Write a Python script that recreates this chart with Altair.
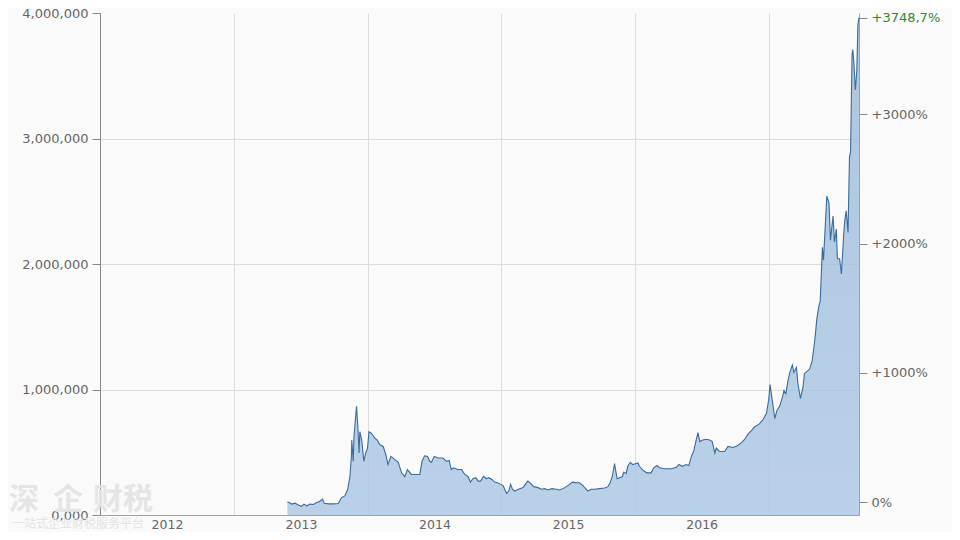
import altair as alt
import pandas as pd

# ---- data (values in thousands) ----
dates_2013 = ["2013-05-27", "2013-06-01", "2013-06-08", "2013-06-17", "2013-06-26", "2013-07-05", "2013-07-11",
              "2013-07-19", "2013-07-28", "2013-08-06", "2013-08-15", "2013-08-24", "2013-08-31", "2013-09-05",
              "2013-09-16", "2013-09-29", "2013-10-13", "2013-10-22", "2013-10-31", "2013-11-08", "2013-11-14",
              "2013-11-18", "2013-11-19", "2013-11-23", "2013-11-25", "2013-11-28", "2013-12-02", "2013-12-06",
              "2013-12-09", "2013-12-11", "2013-12-16", "2013-12-22", "2013-12-27"]
values_2013 = [103, 100, 87, 94, 79, 69, 87, 73, 87, 84, 100, 110, 126, 94, 89, 89, 92, 139, 152, 205, 309,
               467, 598, 428, 624, 730, 866, 677, 494, 664, 598, 428, 494]

dates_2014 = ["2014-01-01", "2014-01-05", "2014-01-12", "2014-01-21", "2014-01-27", "2014-02-04", "2014-02-13",
              "2014-02-20", "2014-02-26", "2014-03-06", "2014-03-17", "2014-03-26", "2014-04-04", "2014-04-13",
              "2014-04-20", "2014-05-01", "2014-05-15", "2014-05-24", "2014-05-30", "2014-06-06", "2014-06-14",
              "2014-06-20", "2014-06-25", "2014-07-02", "2014-07-13", "2014-07-26", "2014-08-05", "2014-08-12",
              "2014-08-18", "2014-08-25", "2014-09-04", "2014-09-15", "2014-09-24", "2014-10-03", "2014-10-09",
              "2014-10-16", "2014-10-24", "2014-10-30", "2014-11-06", "2014-11-14", "2014-11-22", "2014-11-28",
              "2014-12-07", "2014-12-14", "2014-12-22", "2014-12-31"]
values_2014 = [533, 664, 651, 612, 598, 559, 546, 480, 402, 467, 441, 420, 336, 305, 362, 323, 323, 323, 428,
               472, 467, 428, 420, 467, 454, 454, 428, 435, 362, 376, 362, 362, 323, 305, 262, 289, 297, 270,
               270, 309, 289, 297, 283, 262, 257, 244]

dates_2015 = ["2015-01-06", "2015-01-11", "2015-01-16", "2015-01-22", "2015-01-27", "2015-02-01", "2015-02-07",
              "2015-02-21", "2015-03-02", "2015-03-08", "2015-03-15", "2015-03-23", "2015-03-31", "2015-04-12",
              "2015-04-21", "2015-04-30", "2015-05-09", "2015-05-20", "2015-06-01", "2015-06-10", "2015-06-24",
              "2015-07-03", "2015-07-15", "2015-07-26", "2015-08-03", "2015-08-12", "2015-08-20", "2015-08-26",
              "2015-09-04", "2015-09-13", "2015-09-27", "2015-10-11", "2015-10-20", "2015-10-26", "2015-11-01",
              "2015-11-07", "2015-11-12", "2015-11-14", "2015-11-21", "2015-11-28", "2015-12-02", "2015-12-09",
              "2015-12-13", "2015-12-20", "2015-12-27"]
values_2015 = [236, 205, 171, 191, 244, 205, 191, 210, 218, 244, 270, 252, 226, 218, 205, 210, 199, 210, 205,
               199, 218, 236, 262, 257, 257, 236, 210, 191, 205, 205, 210, 215, 226, 257, 309, 409, 323, 289,
               297, 305, 341, 331, 388, 420, 402]

dates_2016 = ["2016-01-03", "2016-01-10", "2016-01-14", "2016-01-23", "2016-02-03", "2016-02-15", "2016-02-22",
              "2016-03-02", "2016-03-09", "2016-03-23", "2016-04-10", "2016-04-24", "2016-05-01", "2016-05-10",
              "2016-05-21", "2016-05-28", "2016-06-04", "2016-06-10", "2016-06-16", "2016-06-22", "2016-06-27",
              "2016-07-05", "2016-07-15", "2016-07-24", "2016-07-31", "2016-08-07", "2016-08-11", "2016-08-20",
              "2016-09-03", "2016-09-12", "2016-09-26", "2016-10-07", "2016-10-19", "2016-10-28", "2016-11-06",
              "2016-11-15", "2016-11-24", "2016-12-06", "2016-12-17", "2016-12-26"]
values_2016 = [409, 415, 388, 357, 336, 336, 376, 394, 376, 368, 368, 380, 402, 388, 402, 394, 467, 506, 585,
               656, 585, 598, 604, 598, 585, 494, 533, 506, 506, 546, 538, 551, 577, 604, 646, 672, 703, 724,
               761, 809]

dates_2017 = ["2017-01-01", "2017-01-05", "2017-01-11", "2017-01-18", "2017-01-24", "2017-01-31", "2017-02-08",
              "2017-02-12", "2017-02-17", "2017-02-23", "2017-02-28", "2017-03-07", "2017-03-11", "2017-03-18",
              "2017-03-22", "2017-03-29", "2017-04-05", "2017-04-09", "2017-04-16", "2017-04-23", "2017-04-30",
              "2017-05-07", "2017-05-13", "2017-05-19", "2017-05-22", "2017-05-28", "2017-05-31", "2017-06-09",
              "2017-06-15", "2017-06-19", "2017-06-26", "2017-06-30", "2017-07-05", "2017-07-08", "2017-07-14",
              "2017-07-19", "2017-07-25", "2017-07-28", "2017-08-01", "2017-08-06", "2017-08-10", "2017-08-13",
              "2017-08-17", "2017-08-19", "2017-08-22", "2017-08-26", "2017-08-30", "2017-09-02", "2017-09-05"]
values_2017 = [913, 1039, 913, 769, 835, 866, 939, 992, 966, 1071, 1136, 1194, 1136, 1176, 1050, 927, 1018,
               1128, 1144, 1163, 1228, 1386, 1569, 1675, 1701, 2134, 2031, 2541, 2488, 2189, 2383, 2173, 2278,
               2042, 2042, 1920, 2226, 2344, 2423, 2252, 2856, 2895, 3669, 3709, 3606, 3386, 3538, 3906, 3964]

left_ticks = [0, 1000000, 2000000, 3000000, 4000000]
year_ticks = [2012, 2013, 2014, 2015, 2016, 2017]
pct_ticks = [0, 1000, 2000, 3000]
pct_labels = ["0%", "+1000%", "+2000%", "+3000%"]
last_label = "+3748,7%"
watermark_chars = ["深", "企", "财", "税"]
watermark_sub = "一站式企业财税服务平台"

dates = dates_2013 + dates_2014 + dates_2015 + dates_2016 + dates_2017
values_k = values_2013 + values_2014 + values_2015 + values_2016 + values_2017
df = pd.DataFrame({"date": dates, "value": [v * 1000 for v in values_k]})

start_value = df["value"].iloc[0]
end_value = df["value"].iloc[-1]
right_values = [start_value * (1 + p / 100) for p in pct_ticks] + [end_value]

# label expression for right axis
expr = f"datum.value > {end_value - 1} ? '{last_label}'"
for v, lab in sorted(zip(right_values[:-1], pct_labels), reverse=True):
    expr += f" : datum.value > {v - 1} ? '{lab}'"
expr += " : ''"

FONT = "DejaVu Sans"
LABEL = "#666666"
GRID = "#dcdcdc"

x_domain = [alt.DateTime(year=2012, month=1, date=1, utc=True),
            alt.DateTime(year=2017, month=9, date=5, utc=True)]
x_enc = alt.X(
    "date:T",
    scale=alt.Scale(type="utc", domain=x_domain),
    axis=alt.Axis(
        values=[alt.DateTime(year=y, month=1, date=1, utc=True) for y in year_ticks],
        labelExpr="utcFormat(datum.value, '%Y') == '2017' ? '' : utcFormat(datum.value, '%Y')",
        grid=True, gridColor=GRID, ticks=False, labelOffset=67, labelPadding=3,
        domainColor="#a0a0a0", labelColor=LABEL, labelFont=FONT, labelFontSize=12.5,
        labelOverlap=False, labelFlush=False, title=None,
    ),
)

y_scale = alt.Scale(domain=[0, 4000000], nice=False, zero=True)

gradient = alt.Gradient(
    gradient="linear",
    stops=[alt.GradientStop(color="#9ab9d8", offset=0),
           alt.GradientStop(color="#a9c6e4", offset=1)],
    x1=0, x2=0, y1=0, y2=1,
)

area = alt.Chart(df).mark_area(
    color=gradient, fillOpacity=0.8,
    line={"color": "#3b6c9c", "strokeWidth": 1.1},
).encode(
    x=x_enc,
    y=alt.Y(
        "value:Q", scale=y_scale,
        axis=alt.Axis(
            values=left_ticks,
            labelExpr="datum.value == 0 ? '0,000' : format(datum.value, ',')",
            grid=True,
            gridColor={"condition": {"test": "datum.value == 0 || datum.value >= 4000000",
                                     "value": "transparent"}, "value": GRID},
            tickSize=8, tickColor="#888888", domainColor="#888888", labelPadding=4,
            labelColor=LABEL, labelFont=FONT, labelFontSize=13, labelOverlap=False, title=None,
        ),
    ),
)

right = alt.Chart(df).mark_line(opacity=0).encode(
    x=alt.X("date:T", scale=alt.Scale(type="utc", domain=x_domain)),
    y=alt.Y(
        "value:Q", scale=y_scale,
        axis=alt.Axis(
            orient="right", values=right_values, labelExpr=expr, grid=False,
            tickSize=8, tickColor="#888888", domainColor="#a0a0a0", labelPadding=4,
            labelColor={"condition": {"test": f"datum.value > {end_value - 1}", "value": "#2e8b2e"},
                        "value": LABEL},
            labelFont=FONT, labelFontSize=13, labelOverlap=False, title=None,
        ),
    ),
)

one = pd.DataFrame({"a": [0]})
wm_x = [-76, -32, 8, 38]
wm_layers = [
    alt.Chart(one).mark_text(text=ch, font="Noto Sans CJK SC", fontSize=30, fontWeight="bold",
                             color="#e3e3e3", opacity=0.9).encode(x=alt.value(px), y=alt.value(487))
    for ch, px in zip(watermark_chars, wm_x)
]
wm_sub = alt.Chart(one).mark_text(text=watermark_sub, font="Noto Sans CJK SC", fontSize=12,
                                  color="#e3e3e3").encode(x=alt.value(-22), y=alt.value(511))

chart = alt.layer(area, right).resolve_scale(y="independent")
chart = alt.layer(chart, *wm_layers, wm_sub).properties(
    width=759, height=502,
    autosize=alt.AutoSizeParams(type="none"),
    padding={"left": 92, "top": 5, "right": 93, "bottom": 17},
    background="#fafafa",
).configure_view(stroke=None)

chart.save("out.html", embed_options={"renderer": "svg", "actions": False})
